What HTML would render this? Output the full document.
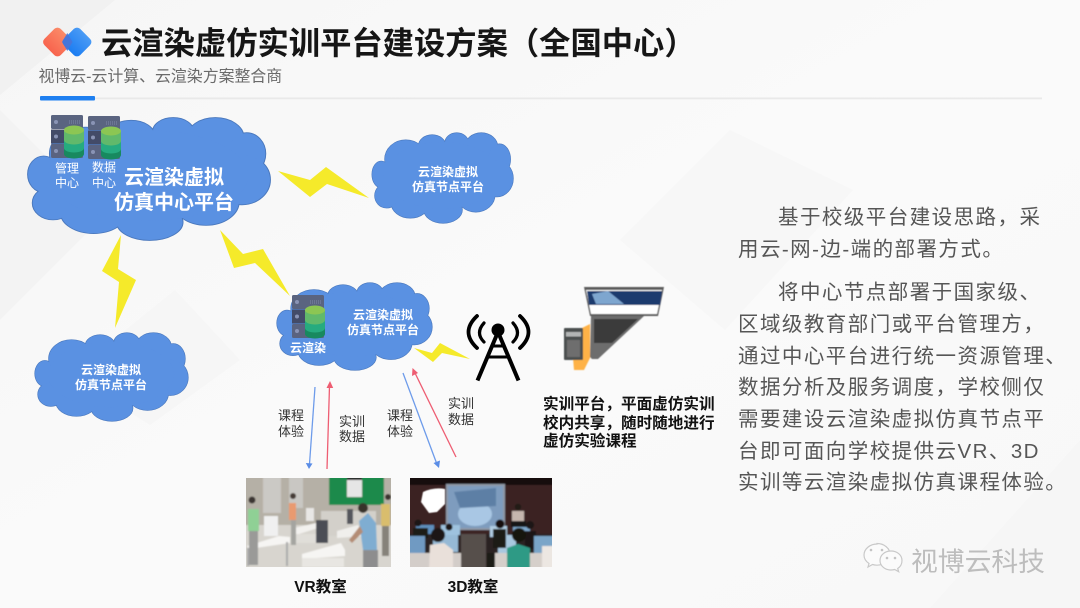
<!DOCTYPE html>
<html><head><meta charset="utf-8">
<style>
html,body{margin:0;padding:0;width:1080px;height:608px;overflow:hidden;background:#f9f9f9}
svg{display:block}
text{font-family:"Liberation Sans","Noto Sans CJK SC",sans-serif}
</style></head><body>
<svg width="1080" height="608" viewBox="0 0 1080 608" xmlns="http://www.w3.org/2000/svg">
<defs>
<linearGradient id="bg" x1="0" y1="0" x2="1" y2="1"><stop offset="0" stop-color="#f6f6f6"/><stop offset=".5" stop-color="#fafafa"/><stop offset="1" stop-color="#f8f8f8"/></linearGradient>
<linearGradient id="rd" x1="0" y1="0" x2="0" y2="1"><stop offset="0" stop-color="#fb8a68"/><stop offset="1" stop-color="#f8644e"/></linearGradient>
<linearGradient id="bl" x1="0" y1="0" x2="0" y2="1"><stop offset="0" stop-color="#4a9bf5"/><stop offset="1" stop-color="#1c7df2"/></linearGradient>
<filter id="b1" x="-5%" y="-5%" width="110%" height="110%"><feGaussianBlur stdDeviation=".75"/></filter>
<filter id="b2" x="-5%" y="-5%" width="110%" height="110%"><feGaussianBlur stdDeviation=".5"/></filter>
<g id="lumps">
<ellipse cx="9" cy="41" rx="10" ry="13"/><ellipse cx="36" cy="26" rx="23" ry="19"/><ellipse cx="65" cy="13" rx="15" ry="11"/>
<ellipse cx="92" cy="10" rx="13" ry="10"/><ellipse cx="119" cy="14" rx="18" ry="14"/><ellipse cx="139" cy="26" rx="12" ry="15"/>
<ellipse cx="136" cy="45" rx="18" ry="18"/><ellipse cx="113" cy="61" rx="21" ry="17"/><ellipse cx="77" cy="76" rx="21" ry="13"/>
<ellipse cx="41" cy="69" rx="21" ry="15"/><ellipse cx="15" cy="62" rx="13" ry="12"/><ellipse cx="76" cy="42" rx="64" ry="33"/>
</g>
<g id="cloud">
<use href="#lumps" fill="#4a78bd" stroke="#4a78bd" stroke-width="1.200" vector-effect="non-scaling-stroke"/>
<use href="#lumps" fill="#5a91e2"/>
</g>
<g id="srv">
<rect x="0" y="0" width="32" height="14" rx="1.500" fill="#5a6480"/>
<rect x="0" y="14.500" width="32" height="14" fill="#434b68"/>
<rect x="0" y="29" width="32" height="14" rx="1.500" fill="#5a6380"/>
<circle cx="5" cy="7" r="2" fill="#8a94b5"/><circle cx="5" cy="21.500" r="2" fill="#8a94b5"/><circle cx="5" cy="36" r="2" fill="#8a94b5"/>
<path d="M18 6h11M18 8h11" stroke="#7f89a8" stroke-width="1" stroke-dasharray="1 1"/>
<path d="M13 33v6c0 2.500 4.500 4.500 10 4.500s10-2 10-4.500v-6z" fill="#18895f"/>
<path d="M13 22v11c0 2.500 4.500 4.500 10 4.500s10-2 10-4.500v-11z" fill="#26ab7f"/>
<path d="M13 15v10c0 2.500 4.500 4.500 10 4.500s10-2 10-4.500v-10z" fill="#61b96b"/>
<ellipse cx="23" cy="15" rx="10" ry="4.500" fill="#8cc653"/>
</g>
</defs>

<rect width="1080" height="608" fill="url(#bg)"/>
<polygon points="0,0 115,0 0,95" fill="#f1f1f1"/>
<polygon points="0,110 105,215 0,320" fill="#f3f3f3"/>
<polygon points="175,290 240,360 150,425 70,375" fill="#f6f6f6"/>
<polygon points="853,190 725,330 620,240 730,130" fill="#f7f7f7"/>
<polygon points="1080,440 930,608 1080,608" fill="#f6f6f6"/>

<!-- header -->
<rect x="46" y="30.500" width="23" height="23" rx="4.500" transform="rotate(45 57.500 42)" fill="url(#rd)"/>
<rect x="65.500" y="30.500" width="23" height="23" rx="4.500" transform="rotate(45 77 42)" fill="url(#bl)"/>
<path d="M67.300 33 L72.500 42 L67.300 51 L62 42z" fill="#4a74d8" opacity=".9"/>
<text x="101" y="54" font-size="31.300" font-weight="700" fill="#161616">云渲染虚仿实训平台建设方案（全国中心）</text>
<text x="38.500" y="81.500" font-size="15.900" fill="#6a6a6a">视博云-云计算、云渲染方案整合商</text>
<rect x="95" y="97.500" width="947" height="1.800" fill="#e9e9e9"/>
<rect x="40" y="96" width="55" height="4.500" rx="1" fill="#1e7ff0"/>

<!-- clouds -->
<g transform="translate(29.600 118) scale(1.561 1.371)"><use href="#cloud"/></g>
<g transform="translate(373 133) scale(.91 1.011)"><use href="#cloud"/></g>
<g transform="translate(36 333) scale(.987 .989)"><use href="#cloud"/></g>
<g transform="translate(278 283) scale(1 .978)"><use href="#cloud"/></g>

<!-- bolts -->
<g fill="#f5ea2a">
<polygon points="278,171 310,180 326,167 369,198 327,184 310,197"/>
<polygon points="121,235 102,271 119,282 115,328 136,280 118,269"/>
<polygon points="220,230 234,268 255,263 290,296 263,249 243,254"/>
<polygon points="414,348 433,362 442,353 470,359 440,343 432,353"/>
</g>

<use href="#srv" x="51" y="115"/>
<use href="#srv" x="88" y="116"/>
<use href="#srv" x="292" y="295"/>

<g fill="#fff" text-anchor="middle" font-weight="700">
<text font-size="12" font-weight="400" x="67" y="172.500">管理</text><text font-size="12" font-weight="400" x="67" y="187">中心</text>
<text font-size="12" font-weight="400" x="104" y="171.500">数据</text><text font-size="12" font-weight="400" x="104" y="187">中心</text>
<text font-size="20" x="174" y="184">云渲染虚拟</text><text font-size="20" x="174" y="209">仿真中心平台</text>
<text font-size="12" x="448" y="176">云渲染虚拟</text><text font-size="12" x="448" y="191">仿真节点平台</text>
<text font-size="12" x="111" y="374">云渲染虚拟</text><text font-size="12" x="111" y="389">仿真节点平台</text>
<text font-size="12" x="383" y="319">云渲染虚拟</text><text font-size="12" x="383" y="334">仿真节点平台</text>
<text font-size="12" x="308" y="352">云渲染</text>
</g>

<!-- arrows -->
<g stroke-width="1.300" fill="none">
<line x1="315" y1="387" x2="309.500" y2="464" stroke="#6d9bea"/>
<line x1="327" y1="469" x2="329.500" y2="386" stroke="#ee5d72"/>
<line x1="403" y1="373" x2="436.500" y2="463" stroke="#6d9bea"/>
<line x1="456" y1="457" x2="415" y2="373" stroke="#ee5d72"/>
</g>
<polygon points="309,469 305.800,463 312.500,463.500" fill="#5b8de6"/>
<polygon points="330,381 326.500,388 333.200,388" fill="#ee5d72"/>
<polygon points="439,468 433.500,463 440,460.500" fill="#5b8de6"/>
<polygon points="412.500,368 412,376 418,373" fill="#ee5d72"/>

<g font-size="13" fill="#333" text-anchor="middle">
<text x="291" y="420">课程</text><text x="291" y="436">体验</text>
<text x="352" y="426">实训</text><text x="352" y="441">数据</text>
<text x="400" y="420">课程</text><text x="400" y="436">体验</text>
<text x="461" y="408">实训</text><text x="461" y="424">数据</text>
</g>

<!-- tower -->
<g fill="none" stroke="#000" stroke-linecap="round">
<path d="M477 316 Q460 332 477 348" stroke-width="3.800"/>
<path d="M520 316 Q537 332 520 348" stroke-width="3.800"/>
<path d="M484 323 Q475 333 484 342" stroke-width="3.200"/>
<path d="M513 323 Q522 333 513 342" stroke-width="3.200"/>
</g>
<circle cx="498" cy="330" r="6.500" fill="#000"/>
<g stroke="#000" stroke-width="4" fill="none">
<path d="M498 332 L477.500 380.500 M498 332 L518.500 380.500"/><path d="M491 346 H505" stroke-width="3"/><path d="M487 357 H509" stroke-width="3"/>
</g>

<!-- laptop -->
<g filter="url(#b2)">
<polygon points="582,328 590,324 590,358 584,370 574,370 573,358" fill="#feb246"/>
<polygon points="591,316 644,316 598,359 592,359 590,357" fill="#6d6d6d"/>
<polygon points="594,319 638,319 612,343 594,343" fill="#3a3a3a"/>
<polygon points="584,287 664,287 658,316 590,316" fill="#5c5c5c"/>
<polygon points="586,290 662,290 657,314 591,314" fill="#fff"/>
<polygon points="587,291 662,291 660,305 589,305" fill="#1c3a6e"/>
<polygon points="592,294 608,291 624,304 596,304" fill="#7ea6cf"/>
<rect x="564" y="328" width="19" height="32" rx="1" fill="#4c4f50"/>
<rect x="566" y="332" width="15" height="4.500" fill="#b2b5b5"/>
<rect x="567" y="340" width="13" height="17" fill="#6e6e6e"/>
</g>

<g font-size="15.600" font-weight="700" fill="#111">
<text x="543" y="409">实训平台，平面虚仿实训</text>
<text x="543" y="428">校内共享，随时随地进行</text>
<text x="543" y="446">虚仿实验课程</text>
</g>

<!-- VR classroom -->
<svg x="246" y="478" width="145" height="89" viewBox="0 0 145 89">
<g filter="url(#b1)">
<rect x="-3" y="-3" width="151" height="95" fill="#d8d5cf"/>
<rect x="-3" y="-3" width="151" height="50" fill="#b5b0a6"/>
<rect x="17" y="-3" width="18" height="38" fill="#cbc9c5"/><rect x="43" y="-3" width="14" height="33" fill="#c9c7c3"/>
<rect x="83" y="-3" width="55" height="30" fill="#1d8a4b"/><rect x="101" y="2" width="15" height="17" fill="#e6e6e6"/><rect x="101" y="-1" width="15" height="3" fill="#222"/>
<rect x="75" y="33" width="55" height="25" fill="#d3d0ca"/>
<polygon points="1,68 33,58 44,59 44,65 3,71" fill="#f6f5f3"/>
<rect x="1" y="70" width="2" height="18" fill="#aaa"/><rect x="40" y="64" width="2" height="24" fill="#aaa"/>
<polygon points="48,50 70,45 72,50 50,57" fill="#f2f1ee"/><rect x="49" y="56" width="21" height="9" fill="#e0ded9"/>
<polygon points="56,76 95,65 99,72 99,78 56,81" fill="#f6f5f3"/><rect x="56" y="80" width="42" height="9" fill="#e8e6e2"/>
<polygon points="91,53 112,47 118,55 118,58 91,60" fill="#f0efec"/>
<rect x="18" y="38" width="14" height="20" fill="#f0f0f0"/><rect x="60" y="30" width="8" height="13" fill="#e8e7e5"/>
<rect x="70" y="42" width="12" height="23" fill="#4b4d55"/><rect x="101" y="31" width="6" height="15" fill="#55565c"/>
<rect x="2" y="31" width="11" height="22" fill="#8fd095"/><rect x="3" y="53" width="9" height="34" fill="#9a9a98"/><circle cx="6" cy="22" r="3.500" fill="#3a3430"/>
<rect x="43" y="25" width="7" height="17" fill="#e99a70"/><rect x="45" y="42" width="5" height="25" fill="#a4a4a0"/><circle cx="47" cy="18" r="3" fill="#443a34"/>
<polygon points="113,43 122,35 130,45 131,72 117,72" fill="#7fadd1"/><rect x="117" y="72" width="15" height="18" fill="#8d8d8e"/><circle cx="117" cy="30" r="5" fill="#37302c"/>
<polygon points="114,48 103,62 106,65 117,54" fill="#b48c74"/>
<rect x="135" y="26" width="9" height="22" fill="#d9bd6d"/><rect x="136" y="48" width="7" height="30" fill="#86827a"/><circle cx="142" cy="19" r="3" fill="#3b332d"/>
</g>
</svg>
<!-- 3D classroom -->
<svg x="410" y="478" width="142" height="89" viewBox="0 0 142 89">
<g filter="url(#b1)">
<rect x="-3" y="-3" width="148" height="95" fill="#3a2320"/>
<rect x="-3" y="-3" width="148" height="10" fill="#151110"/>
<rect x="36" y="6" width="59" height="46" fill="#8f98a6"/><rect x="38" y="8" width="55" height="42" fill="#7e9cbe"/>
<ellipse cx="65" cy="36" rx="17" ry="12" fill="#a9c7e4"/><polygon points="44,14 86,10 86,28 50,30" fill="#5d7fa5"/>
<rect x="-3" y="56" width="148" height="36" fill="#2b2422"/>
<rect x="51" y="56" width="25" height="36" fill="#57504c"/>
<rect x="6" y="47" width="18" height="9" fill="#5f8fbd"/><rect x="31" y="47" width="19" height="10" fill="#9ec2de"/><rect x="80" y="48" width="17" height="11" fill="#b1cde3"/><rect x="103" y="49" width="17" height="9" fill="#7ea8cc"/>
<circle cx="8" cy="45" r="3.500" fill="#1a1513"/><rect x="3" y="50" width="15" height="10" fill="#1f1a18"/>
<circle cx="39" cy="49" r="3.500" fill="#1a1513"/><circle cx="120" cy="47" r="4" fill="#1a1513"/><rect x="115" y="53" width="11" height="18" fill="#1e1917"/>
<rect x="-3" y="58" width="18" height="18" fill="#6f9ac2"/><rect x="23" y="57" width="25" height="17" fill="#96b9d5"/><rect x="88" y="57" width="18" height="18" fill="#a9c8df"/><rect x="124" y="58" width="21" height="18" fill="#7aa5c8"/>
<rect x="-3" y="75" width="54" height="17" fill="#d3cdc9"/><rect x="83" y="75" width="62" height="17" fill="#d5cfca"/>
<polygon points="20,67 34,65 43,72 43,92 19,92" fill="#e9e0da"/><circle cx="28" cy="57" r="7" fill="#1a1513"/>
<polygon points="97,70 108,66 120,70 120,92 97,92" fill="#2f9a85"/><circle cx="109" cy="57" r="7" fill="#19130f"/>
<rect x="83" y="51" width="13" height="19" fill="#1e1a19"/><circle cx="90" cy="46" r="4.500" fill="#15100e"/><rect x="77" y="75" width="8" height="17" fill="#1e1a19"/>
<rect x="132" y="68" width="13" height="24" fill="#ece7e2"/>
<rect x="102" y="33" width="12" height="10" fill="#c5b6ae"/><circle cx="108" cy="29" r="3.200" fill="#201a18"/><rect x="101" y="43" width="15" height="6" fill="#191717"/>
</g>
<path d="M35 11 Q24 9 13 14 L11 24 L19 35 L27 34 L35 26z" fill="#fff" filter="url(#b2)"/>
</svg>
<g font-size="15.500" font-weight="700" fill="#111" text-anchor="middle">
<text x="320.500" y="592">VR教室</text>
<text x="473" y="592">3D教室</text>
</g>

<!-- body text -->
<g font-size="20.500" fill="#565656" letter-spacing="1.450">
<text x="778" y="224">基于校级平台建设思路，采</text>
<text x="738" y="256">用云-网-边-端的部署方式。</text>
<text x="778" y="299">将中心节点部署于国家级、</text>
<text x="738" y="331">区域级教育部门或平台管理方，</text>
<text x="738" y="363">通过中心平台进行统一资源管理、</text>
<text x="738" y="394">数据分析及服务调度，学校侧仅</text>
<text x="738" y="426">需要建设云渲染虚拟仿真节点平</text>
<text x="738" y="458">台即可面向学校提供云VR、3D</text>
<text x="738" y="489">实训等云渲染虚拟仿真课程体验。</text>
</g>

<!-- watermark -->
<g fill="#fbfbfb" stroke="#c9c9c9" stroke-width="1.200">
<path d="M877 544c-7 0-13 5-13 11 0 3.500 2 6.500 5 8.500l-1 3.500 4.500-2.500c1.500.5 3 .7 4.500.7 7 0 13-5 13-11s-6-10.700-13-10.700z"/>
<path d="M891 551c-6 0-11 4-11 9.500s5 9.500 11 9.500c1.300 0 2.500-.2 3.700-.5l4 2.200-1-3.200c2.800-1.800 4.300-4.600 4.300-8 0-5.500-5-9.500-11-9.500z"/>
</g>
<g fill="#c4c4c4"><circle cx="871" cy="550" r="1.300"/><circle cx="882" cy="550" r="1.300"/><circle cx="887" cy="558" r="1.300"/><circle cx="895" cy="558" r="1.300"/></g>
<text x="911" y="571" font-size="26.800" fill="#bdbdbd">视博云科技</text>
</svg>
</body></html>
